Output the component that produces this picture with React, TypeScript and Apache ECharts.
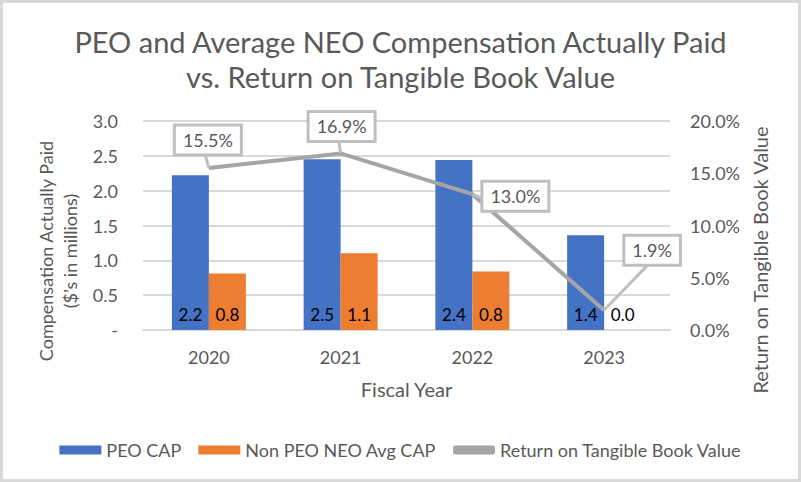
import React, { useEffect, useRef } from "react";
import * as echarts from "echarts";

const years = ["2020", "2021", "2022", "2023"];
const peoCap = [2.22, 2.45, 2.44, 1.36];
const neoCap = [0.81, 1.1, 0.84, 0.0];
const rotbv = [15.5, 16.9, 13.0, 1.9];
const calloutOffsets: [number, number][] = [
  [-1, -28],
  [1, -27],
  [43, 2],
  [48, -60],
];

const FONT = "Lato";
const GRAY = "#595959";

export default function App() {
  const ref = useRef<HTMLDivElement>(null);
  useEffect(() => {
    if (!ref.current) return;
    const chart = echarts.init(ref.current, null, { renderer: "svg" });
    const barLabel = {
      show: true,
      position: "insideBottom",
      distance: 7,
      color: "#000",
      fontSize: 17,
      fontFamily: FONT,
      formatter: (p: any) => Number(p.value).toFixed(1),
    };
    chart.setOption({
      animation: false,
      textStyle: { fontFamily: FONT },
      title: {
        text: "PEO and Average NEO Compensation Actually Paid\nvs. Return on Tangible Book Value",
        left: "center",
        top: 19,
        textStyle: {
          fontFamily: FONT,
          fontSize: 29,
          fontWeight: "normal",
          color: GRAY,
          lineHeight: 35,
        },
      },
      grid: { left: 143, right: 131, top: 121, bottom: 152 },
      legend: {
        bottom: 18,
        left: "center",
        itemWidth: 42,
        itemHeight: 9,
        itemGap: 17,
        textStyle: { fontSize: 18, color: GRAY, fontFamily: FONT },
        data: [
          { name: "PEO CAP", icon: "rect" },
          { name: "Non PEO NEO Avg CAP", icon: "rect" },
          { name: "Return on Tangible Book Value", icon: "roundRect" },
        ],
      },
      xAxis: {
        type: "category",
        data: years,
        name: "Fiscal Year",
        nameLocation: "middle",
        nameGap: 49,
        nameTextStyle: { fontSize: 20, color: GRAY, fontFamily: FONT },
        axisLine: { lineStyle: { color: "#D9D9D9", width: 2 } },
        axisTick: { show: false },
        axisLabel: { fontSize: 18, color: GRAY, margin: 18, fontFamily: FONT },
      },
      yAxis: [
        {
          type: "value",
          min: 0,
          max: 3,
          interval: 0.5,
          axisLine: { show: false },
          axisTick: { show: false },
          splitLine: { lineStyle: { color: "#D9D9D9", width: 2 } },
          axisLabel: {
            fontSize: 18,
            color: GRAY,
            margin: 25,
            fontFamily: FONT,
            formatter: (v: number) => (v === 0 ? "-" : v.toFixed(1)),
          },
        },
        {
          type: "value",
          min: 0,
          max: 20,
          interval: 5,
          position: "right",
          axisLine: { show: false },
          axisTick: { show: false },
          splitLine: { show: false },
          axisLabel: {
            fontSize: 18,
            color: GRAY,
            margin: 20,
            fontFamily: FONT,
            formatter: (v: number) => v.toFixed(1) + "%",
          },
        },
      ],
      graphic: [
        {
          type: "text",
          x: 58,
          y: 251,
          rotation: Math.PI / 2,
          style: {
            text: "Compensation Actually Paid\n($’s in millions)",
            textAlign: "center",
            textVerticalAlign: "middle",
            fontSize: 18,
            lineHeight: 24,
            fill: GRAY,
            fontFamily: FONT,
          },
        },
        {
          type: "text",
          x: 760,
          y: 260,
          rotation: Math.PI / 2,
          style: {
            text: "Return on Tangible Book Value",
            textAlign: "center",
            textVerticalAlign: "middle",
            fontSize: 20,
            fill: GRAY,
            fontFamily: FONT,
          },
        },
      ],
      series: [
        {
          name: "PEO CAP",
          type: "bar",
          data: peoCap,
          barWidth: 37,
          barGap: "0%",
          itemStyle: { color: "#4472C4" },
          label: barLabel,
        },
        {
          name: "Non PEO NEO Avg CAP",
          type: "bar",
          data: neoCap,
          barWidth: 37,
          barGap: "0%",
          itemStyle: { color: "#ED7D31" },
          label: barLabel,
        },
        {
          name: "Return on Tangible Book Value",
          type: "line",
          yAxisIndex: 1,
          data: rotbv.map((v, i) => ({
            value: v,
            label: { offset: calloutOffsets[i] },
          })),
          symbol: "circle",
          symbolSize: 1,
          itemStyle: { color: "#A5A5A5" },
          lineStyle: { color: "#A5A5A5", width: 4 },
          z: 5,
          label: {
            show: true,
            position: "inside",
            formatter: (p: any) => Number(p.value).toFixed(1) + "%",
            fontSize: 18,
            color: GRAY,
            fontFamily: FONT,
            backgroundColor: "#fff",
            borderColor: "#BFBFBF",
            borderWidth: 3,
            padding: [5, 7, 4, 7],
          },
          labelLine: {
            show: true,
            lineStyle: { color: "#BFBFBF", width: 3 },
          },
        },
      ],
    });
    return () => chart.dispose();
  }, []);
  return (
    <div
      style={{
        position: "fixed",
        left: 0,
        top: 0,
        width: 801,
        height: 482,
        boxSizing: "border-box",
        border: "3px solid #D9D9D9",
        background: "#fff",
      }}
    >
      <div ref={ref} style={{ position: "absolute", left: -3, top: -3, width: 801, height: 482 }} />
    </div>
  );
}
